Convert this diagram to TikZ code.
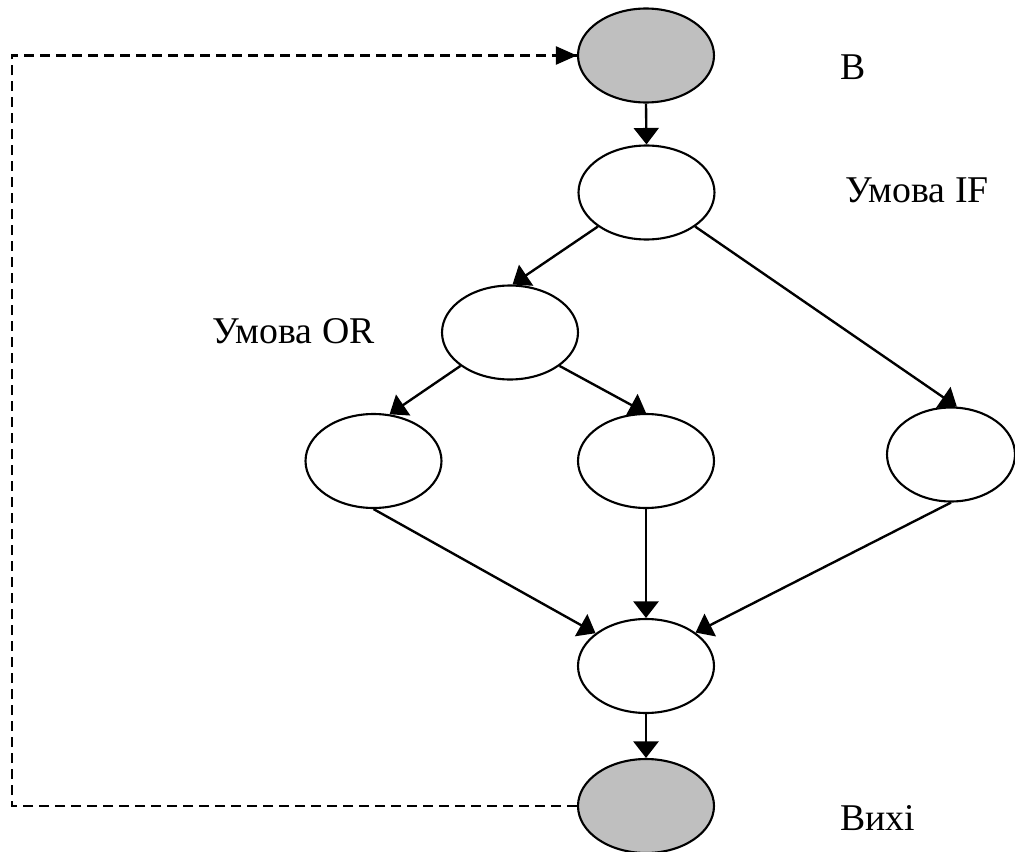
\documentclass[tikz,border=0pt]{standalone}
\usepackage{fontspec}
\setmainfont{Liberation Serif}
\usetikzlibrary{shapes.geometric,arrows.meta}

\tikzset{
  vertex/.style={ellipse, draw=black, line width=1.2pt, fill=white,
    minimum width=2.72cm, minimum height=1.88cm, inner sep=0pt},
  term/.style={vertex, fill=black!25},
  flow/.style={line width=1.35pt, -{Triangle[length=0.33cm, width=0.5cm]}},
  back/.style={line width=1.3pt, dash pattern=on 0.2cm off 0.12cm},
  caption/.style={anchor=base west, inner sep=0pt, font=\fontsize{21.5}{25}\selectfont}
}

\begin{document}
\begin{tikzpicture}[x=0.02cm, y=-0.02cm]
  \useasboundingbox (0,0) rectangle (1015,852);

  % graph vertices
  \node[term]   (start) at (646,55.5) {};
  \node[vertex] (cif)   at (646.5,192.5) {};
  \node[vertex] (cor)   at (510,332.5) {};
  \node[vertex] (l)     at (373.5,461) {};
  \node[vertex] (m)     at (646,461) {};
  \node[vertex, minimum width=2.56cm] (r) at (951,454.5) {};
  \node[vertex] (join)  at (646,666) {};
  \node[term]   (stop)  at (646,806) {};

  % captions
  \node[caption] (tB)   at (840,79)  {В};
  \node[caption] (tIF)  at (845,202) {Умова IF};
  \node[caption] (tOR)  at (212,343) {Умова OR};
  \node[caption] (tOut) at (840,830) {Вихі};

  % edges
  \draw[flow] (start.south) -- (cif.north);
  \draw[flow] (cif.215) -- (cor.87);
  \draw[flow] (cif.325) -- (r.83);
  \draw[flow] (cor.214) -- (l.71);
  \draw[flow] (cor.326) -- (m.north);
  \draw[flow] (l.south) -- (join.147);
  \draw[flow] (m.south) -- (join.north);
  \draw[flow] (r.south) -- (join.34);
  \draw[flow] (join.south) -- (stop.north);

  % return loop
  \coordinate (lb) at (12,806);
  \coordinate (lt) at (12,55.5);
  \draw[back] (stop.west) -- (lb) -- (lt) -- (start.west);
  \draw[line width=1.3pt, -{Triangle[length=0.42cm, width=0.36cm]}]
    ([xshift=-0.5cm]start.west) -- (start.west);
\end{tikzpicture}
\end{document}
